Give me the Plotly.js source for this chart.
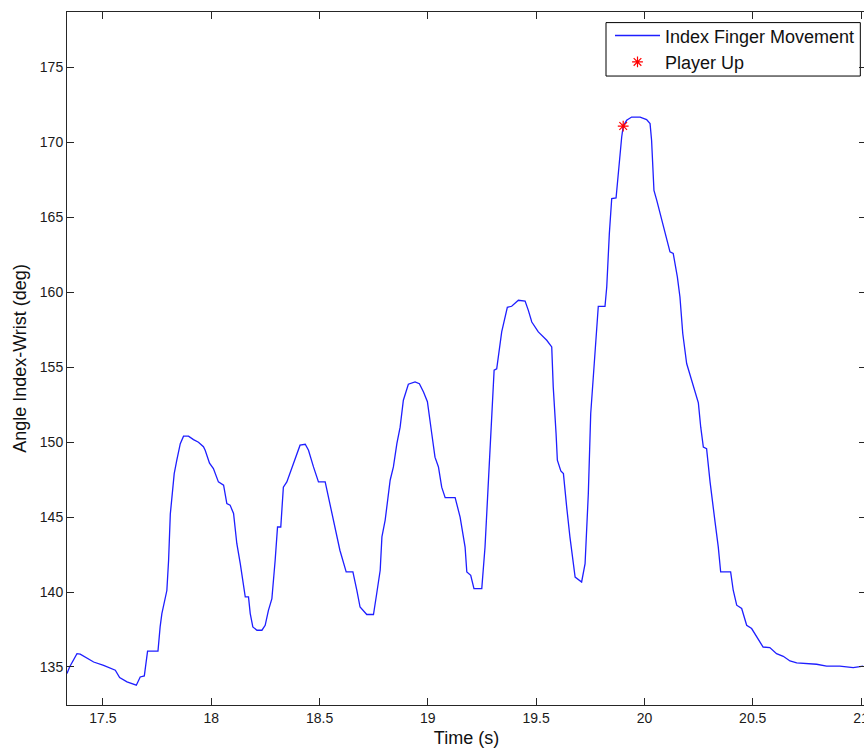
<!DOCTYPE html>
<html>
<head>
<meta charset="utf-8">
<script src="https://cdn.plot.ly/plotly-3.0.1.min.js"></script>
<style>
html,body{margin:0;padding:0;background:#fff;overflow:hidden;}
#chart{width:870px;height:751px;}
</style>
</head>
<body>
<div id="chart"></div>
<script>
const time = [17.334,17.346,17.380,17.395,17.457,17.503,17.557,17.577,17.611,17.654,17.672,17.691,17.706,17.754,17.764,17.772,17.795,17.803,17.811,17.818,17.829,17.841,17.857,17.872,17.895,17.918,17.941,17.964,17.972,17.992,18.010,18.033,18.057,18.072,18.087,18.103,18.118,18.134,18.149,18.157,18.172,18.180,18.192,18.211,18.234,18.249,18.264,18.280,18.295,18.306,18.321,18.333,18.349,18.380,18.410,18.434,18.449,18.472,18.495,18.526,18.549,18.572,18.594,18.623,18.654,18.672,18.687,18.718,18.749,18.764,18.780,18.788,18.803,18.826,18.841,18.857,18.872,18.887,18.910,18.941,18.961,18.980,18.998,19.018,19.033,19.049,19.064,19.080,19.126,19.149,19.172,19.180,19.198,19.213,19.249,19.264,19.279,19.290,19.298,19.306,19.318,19.326,19.341,19.367,19.387,19.418,19.449,19.464,19.480,19.510,19.549,19.572,19.579,19.592,19.598,19.614,19.626,19.641,19.656,19.680,19.710,19.726,19.741,19.752,19.767,19.780,19.787,19.818,19.826,19.838,19.849,19.869,19.879,19.895,19.902,19.918,19.941,19.980,20.010,20.026,20.033,20.044,20.057,20.072,20.095,20.118,20.133,20.152,20.164,20.177,20.195,20.225,20.249,20.260,20.272,20.287,20.303,20.326,20.341,20.352,20.398,20.410,20.426,20.449,20.472,20.495,20.548,20.579,20.610,20.641,20.672,20.703,20.749,20.795,20.841,20.902,20.964,21.010];
const angle = [134.56,135.00,135.89,135.85,135.33,135.11,134.78,134.29,134.00,133.78,134.33,134.40,136.05,136.05,137.67,138.56,140.10,142.10,145.20,146.30,147.90,148.80,149.90,150.40,150.40,150.17,150.00,149.70,149.46,148.60,148.24,147.35,147.13,145.90,145.80,145.24,143.24,141.90,140.34,139.67,139.67,138.56,137.67,137.45,137.45,137.78,138.78,139.56,142.10,144.34,144.34,147.00,147.35,148.57,149.80,149.86,149.46,148.35,147.35,147.35,145.80,144.34,142.79,141.34,141.34,140.12,139.00,138.50,138.50,139.90,141.45,143.68,144.80,147.46,148.35,149.90,151.00,152.80,153.87,154.02,153.90,153.35,152.70,150.58,149.00,148.35,147.00,146.30,146.30,145.00,143.00,141.34,141.12,140.23,140.23,143.00,147.46,151.00,152.58,154.80,154.90,155.90,157.36,159.00,159.07,159.47,159.42,158.80,158.02,157.36,156.80,156.36,153.69,150.58,148.80,148.08,147.90,145.68,143.68,141.00,140.67,141.90,146.57,151.90,155.25,157.47,159.07,159.07,160.36,163.92,166.26,166.30,167.93,170.37,171.08,171.48,171.70,171.70,171.53,171.26,170.15,166.80,166.14,165.25,163.92,162.70,162.59,161.03,159.69,157.25,155.25,153.69,152.62,151.00,149.68,149.57,147.35,144.68,143.00,141.34,141.34,140.12,139.12,138.90,137.78,137.56,136.33,136.29,135.89,135.71,135.40,135.27,135.22,135.18,135.05,135.05,134.96,135.05];
const upTime = [19.902];
const upAngle = [171.1];
const xTicks = [17.5,18,18.5,19,19.5,20,20.5,21];
const xTickText = ['17.5','18','18.5','19','19.5','20','20.5','21'];
const yTicks = [135,140,145,150,155,160,165,170,175];
const yTickText = ['135','140','145','150','155','160','165','170','175'];

const FONT = 'Liberation Sans, Arial, sans-serif';
const traces = [
  {x: time, y: angle, type: 'scatter', mode: 'lines', name: 'Index Finger Movement',
   line: {color: 'rgb(30,30,255)', width: 1.3}},
  {x: upTime, y: upAngle, type: 'scatter', mode: 'markers', name: 'Player Up',
   marker: {symbol: 'asterisk-open', size: 9, color: 'red', line: {color: 'red', width: 1.2}}}
];
const axisCommon = {
  showline: true, linecolor: '#262626', linewidth: 1, mirror: 'ticks',
  ticks: 'inside', ticklen: 7, tickcolor: '#262626', tickwidth: 1,
  showgrid: false, zeroline: false,
  tickfont: {family: FONT, size: 14, color: '#1a1a1a'}
};
const layout = {
  width: 870, height: 751,
  margin: {l: 67, r: 4, t: 12, b: 46},
  paper_bgcolor: '#fff', plot_bgcolor: '#fff',
  showlegend: true,
  legend: {x: 0.9925, y: 0.99235, xanchor: 'right', yanchor: 'top',
    bgcolor: 'rgba(0,0,0,0)', borderwidth: 0, itemwidth: 45,
    font: {family: FONT, size: 18, color: '#111'}},
  shapes: [{type: 'rect', xref: 'paper', yref: 'paper', x0: 0.6746, x1: 0.9929, y0: 0.9076, y1: 0.9847,
    line: {color: '#000', width: 1}, fillcolor: '#fff', layer: 'below'}],
  xaxis: Object.assign({}, axisCommon, {
    range: [17.334, 21.023], tickvals: xTicks, ticktext: xTickText,
    title: {text: 'Time (s)', font: {family: FONT, size: 18, color: '#111'}, standoff: 6}
  }),
  yaxis: Object.assign({}, axisCommon, {
    range: [132.46, 178.71], tickvals: yTicks, ticktext: yTickText,
    title: {text: 'Angle Index-Wrist (deg)', font: {family: FONT, size: 18, color: '#111'}, standoff: 8}
  })
};
Plotly.newPlot('chart', traces, layout, {displayModeBar: false, staticPlot: true});
</script>
</body>
</html>
